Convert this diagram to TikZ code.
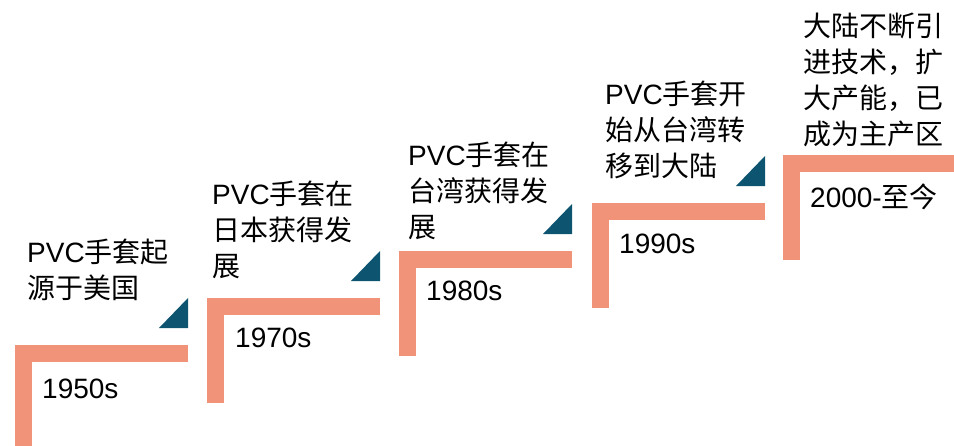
\documentclass[tikz,border=0pt]{standalone}
\usepackage{fontspec}
\setmainfont{Liberation Sans}
\newfontfamily\cjk{Noto Sans CJK SC}
\definecolor{barcol}{HTML}{F19379}
\definecolor{tricol}{HTML}{0D5470}
\begin{document}
\begin{tikzpicture}[x=1pt,y=-1pt,
  bar/.style={fill=barcol},
  tri/.style={fill=tricol},
  desc/.style={anchor=base west,inner sep=0pt,align=left,font=\fontsize{28}{36}\selectfont},
  year/.style={anchor=base west,inner sep=0pt,font=\fontsize{28}{34}\selectfont}]
\useasboundingbox (0,0) rectangle (954,445);
\foreach \x/\y in {15/345,207/298,399/251,592/203,783/155}{
  \fill[bar] (\x,\y) rectangle (\x+173,\y+17);
  \fill[bar] (\x,\y) rectangle (\x+17,\y+105);
}
\foreach \x/\y in {15/345,207/298,399/251,592/203}{
  \fill[tri] (\x+144,\y-17) -- (\x+173,\y-17) -- (\x+173,\y-47) -- cycle;
}
% base anchor = baseline of last line
\node[desc] (d1) at (27,298) {PVC{\cjk 手套起}\\{\cjk 源于美国}};
\node[desc] (d2) at (212,276) {PVC{\cjk 手套在}\\{\cjk 日本获得发}\\{\cjk 展}};
\node[desc] (d3) at (408,237) {PVC{\cjk 手套在}\\{\cjk 台湾获得发}\\{\cjk 展}};
\node[desc] (d4) at (605,176) {PVC{\cjk 手套开}\\{\cjk 始从台湾转}\\{\cjk 移到大陆}};
\node[desc] (d5) at (803,144) {{\cjk 大陆不断引}\\{\cjk 进技术，扩}\\{\cjk 大产能，已}\\{\cjk 成为主产区}};
\node[year] (y1) at (42,398) {1950s};
\node[year] (y2) at (235,347) {1970s};
\node[year] (y3) at (426,300) {1980s};
\node[year] (y4) at (619,253) {1990s};
\node[year] (y5) at (810,207) {2000-{\cjk 至今}};
\end{tikzpicture}
\end{document}
